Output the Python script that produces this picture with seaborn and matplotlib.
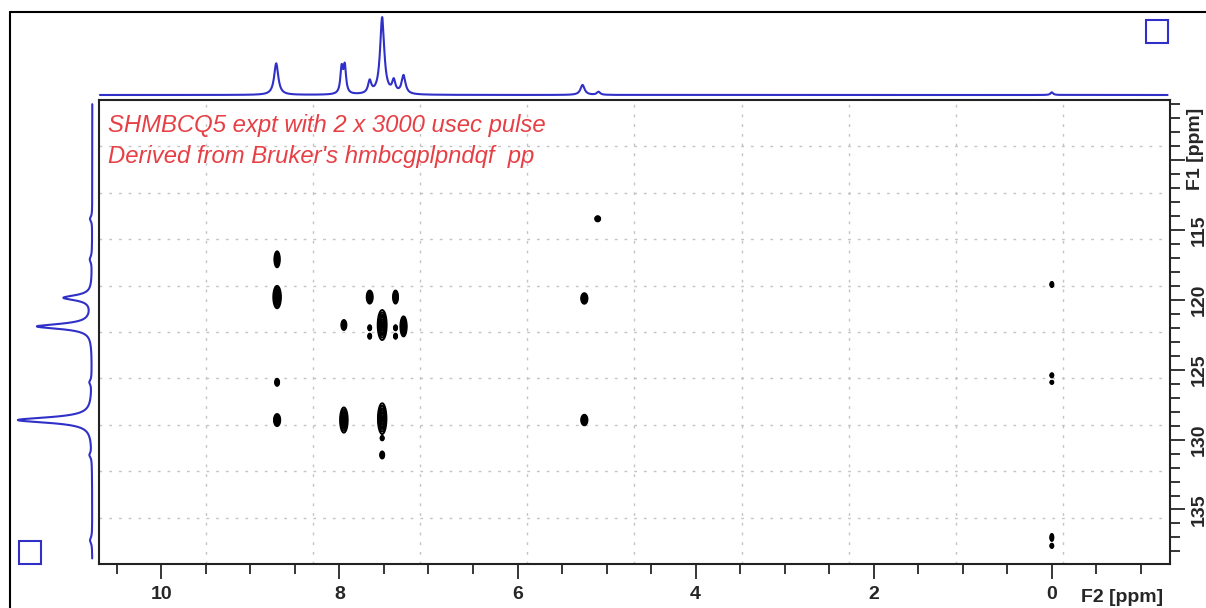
import numpy as np
import seaborn as sns
import matplotlib.pyplot as plt
from matplotlib.lines import Line2D
from matplotlib.patches import Rectangle
from matplotlib.ticker import MultipleLocator, FuncFormatter

sns.set_style('white')
plt.rcParams['font.family'] = ['Liberation Sans Narrow', 'Liberation Sans', 'DejaVu Sans']

# F2 (1H) projection peaks: position ppm, relative height, half width ppm
top_ppm = [8.71, 7.975, 7.94, 7.66, 7.52, 7.39, 7.28, 5.27, 5.09, 0.0]
top_height = [0.41, 0.33, 0.35, 0.16, 1.00, 0.16, 0.24, 0.13, 0.04, 0.035]
top_hw = [0.028, 0.017, 0.017, 0.022, 0.028, 0.022, 0.026, 0.028, 0.022, 0.018]

# F1 (13C) projection peaks
left_ppm = [114.2, 117.1, 119.85, 121.9, 125.9, 128.6, 131.1, 137.2]
left_height = [0.03, 0.03, 0.38, 0.74, 0.03, 1.00, 0.03, 0.03]
left_hw = [0.2, 0.25, 0.22, 0.22, 0.2, 0.24, 0.2, 0.25]

# cross peaks: F2 ppm, F1 ppm, extent along F2 and F1 (ppm)
cross_f2 = [8.70, 8.70, 8.70, 8.70, 7.95, 7.95, 7.66, 7.66, 7.66, 7.52, 7.52, 7.52, 7.52,
            7.37, 7.37, 7.37, 7.28, 5.25, 5.25, 5.10, 0.0, 0.0, 0.0, 0.0, 0.0]
cross_f1 = [117.1, 119.8, 125.9, 128.6, 121.8, 128.6, 119.8, 122.0, 122.6, 121.8, 128.5, 129.9, 131.1,
            119.8, 122.0, 122.6, 121.9, 119.9, 128.6, 114.2, 118.9, 125.4, 125.9, 137.0, 137.6]
cross_w2 = [0.06, 0.085, 0.045, 0.07, 0.056, 0.085, 0.067, 0.034, 0.034, 0.10, 0.095, 0.034, 0.045,
            0.056, 0.034, 0.034, 0.07, 0.07, 0.07, 0.056, 0.034, 0.034, 0.034, 0.034, 0.034]
cross_w1 = [1.14, 1.6, 0.5, 0.86, 0.71, 1.8, 0.93, 0.36, 0.36, 2.14, 2.2, 0.29, 0.5,
            0.93, 0.36, 0.36, 1.43, 0.75, 0.75, 0.36, 0.36, 0.29, 0.21, 0.5, 0.29]

title_lines = ["SHMBCQ5 expt with 2 x 3000 usec pulse",
               "Derived from Bruker's hmbcgplpndqf  pp"]

F2_LIM = (10.70, -1.327)
F1_LIM = (138.9, 105.7)
blue = '#3030c8'
red = '#e64046'

W, H = 1206, 608


def box(x0, y0, x1, y1):
    return [x0 / W, 1 - y1 / H, (x1 - x0) / W, (y1 - y0) / H]


def lorentz(axis, pos, height, hw):
    out = np.zeros_like(axis)
    for p, h, w in zip(pos, height, hw):
        out += h * w ** 2 / ((axis - p) ** 2 + w ** 2)
    return out


fig = plt.figure(figsize=(W / 100, H / 100), dpi=100)
ax = fig.add_axes(box(99, 100, 1170, 564))
ax_top = fig.add_axes(box(99, 12, 1170, 98))
ax_left = fig.add_axes(box(12, 100, 99, 564))

# 2D contour map
f2 = np.linspace(F2_LIM[1], F2_LIM[0], 3000)
f1 = np.linspace(F1_LIM[1], F1_LIM[0], 700)
Z = np.zeros((f1.size, f2.size))
for x, y, wx, wy in zip(cross_f2, cross_f1, cross_w2, cross_w1):
    sx = wx / 2 / 2.146
    sy = wy / 2 / 2.146
    Z += np.outer(np.exp(-(f1 - y) ** 2 / (2 * sy ** 2)), np.exp(-(f2 - x) ** 2 / (2 * sx ** 2)))
ax.contour(f2, f1, Z, levels=[0.1, 0.2, 0.35, 0.5, 0.7, 0.9], colors='k', linewidths=1.4)

ax.set_xlim(*F2_LIM)
ax.set_ylim(*F1_LIM)
for g in np.linspace(F2_LIM[0], F2_LIM[1], 11)[1:-1]:
    ax.axvline(g, color='#c4c4c4', lw=1, ls=(0, (2, 5)), zorder=0)
for g in np.linspace(F1_LIM[0], F1_LIM[1], 11)[1:-1]:
    ax.axhline(g, color='#c4c4c4', lw=1, ls=(0, (2, 5)), zorder=0)

ax.xaxis.set_major_locator(MultipleLocator(2))
ax.xaxis.set_minor_locator(MultipleLocator(0.5))
ax.yaxis.set_major_locator(MultipleLocator(5))
ax.yaxis.set_minor_locator(MultipleLocator(1))
# the 110 label is covered by the F1 axis title in the original
ax.yaxis.set_major_formatter(FuncFormatter(lambda v, p: '' if v < 112 else f'{v:.0f}'))
ax.yaxis.tick_right()
ax.tick_params(which='major', direction='out', length=11, width=1.3, labelsize=14, pad=5)
ax.tick_params(which='minor', direction='out', length=7, width=1.3)
ax.tick_params(axis='y', labelrotation=90, pad=4)
ax.tick_params(bottom=True, right=True, left=False, top=False, which='both')
for lab in ax.get_xticklabels() + ax.get_yticklabels():
    lab.set_fontweight('bold')
for lab in ax.get_yticklabels():
    lab.set_va('center')
for s in ax.spines.values():
    s.set_linewidth(1.5)
    s.set_color('#222222')
ax.set_xlabel('')
ax.set_ylabel('')

ax.text(0.994, -0.072, 'F2 [ppm]', transform=ax.transAxes, ha='right', va='center',
        fontsize=14, fontweight='bold')
ax.text(1.024, 0.895, 'F1 [ppm]', transform=ax.transAxes, ha='center', va='center',
        rotation=90, fontsize=14, fontweight='bold')

for i, line in enumerate(title_lines):
    ax.text(0.008, 0.931 - i * 0.067, line, transform=ax.transAxes, color=red,
            fontsize=17.2, style='italic', va='baseline', ha='left',
            family=['Liberation Sans', 'DejaVu Sans'])

# F2 projection on top
x_top = np.linspace(10.69, -1.30, 5000)
sns.lineplot(x=x_top, y=lorentz(x_top, top_ppm, top_height, top_hw), ax=ax_top,
             color=blue, lw=1.5, estimator=None)
ax_top.set_xlim(*F2_LIM)
ax_top.set_ylim(-0.039, 1.078)
ax_top.axis('off')

# F1 projection on the left
y_left = np.linspace(F1_LIM[1] + 0.3, F1_LIM[0] - 0.4, 3000)
sns.lineplot(x=lorentz(y_left, left_ppm, left_height, left_hw), y=y_left, ax=ax_left,
             color=blue, lw=1.5, estimator=None, orient='y', sort=False)
ax_left.set_xlim(1.08, -0.09)
ax_left.set_ylim(*F1_LIM)
ax_left.axis('off')

# page frame and the small blue boxes
fig.add_artist(Line2D([10 / W, 10 / W], [0, 1 - 12 / H], transform=fig.transFigure, color='k', lw=1.5))
fig.add_artist(Line2D([10 / W, 1], [1 - 12 / H, 1 - 12 / H], transform=fig.transFigure, color='k', lw=1.5))
fig.add_artist(Rectangle((1146 / W, 1 - 43 / H), 22 / W, 23 / H, transform=fig.transFigure,
                         fill=False, edgecolor=blue, lw=1.5))
fig.add_artist(Rectangle((19 / W, 1 - 564 / H), 22 / W, 23 / H, transform=fig.transFigure,
                         fill=False, edgecolor=blue, lw=1.5))

fig.savefig('out.png', dpi=100)
